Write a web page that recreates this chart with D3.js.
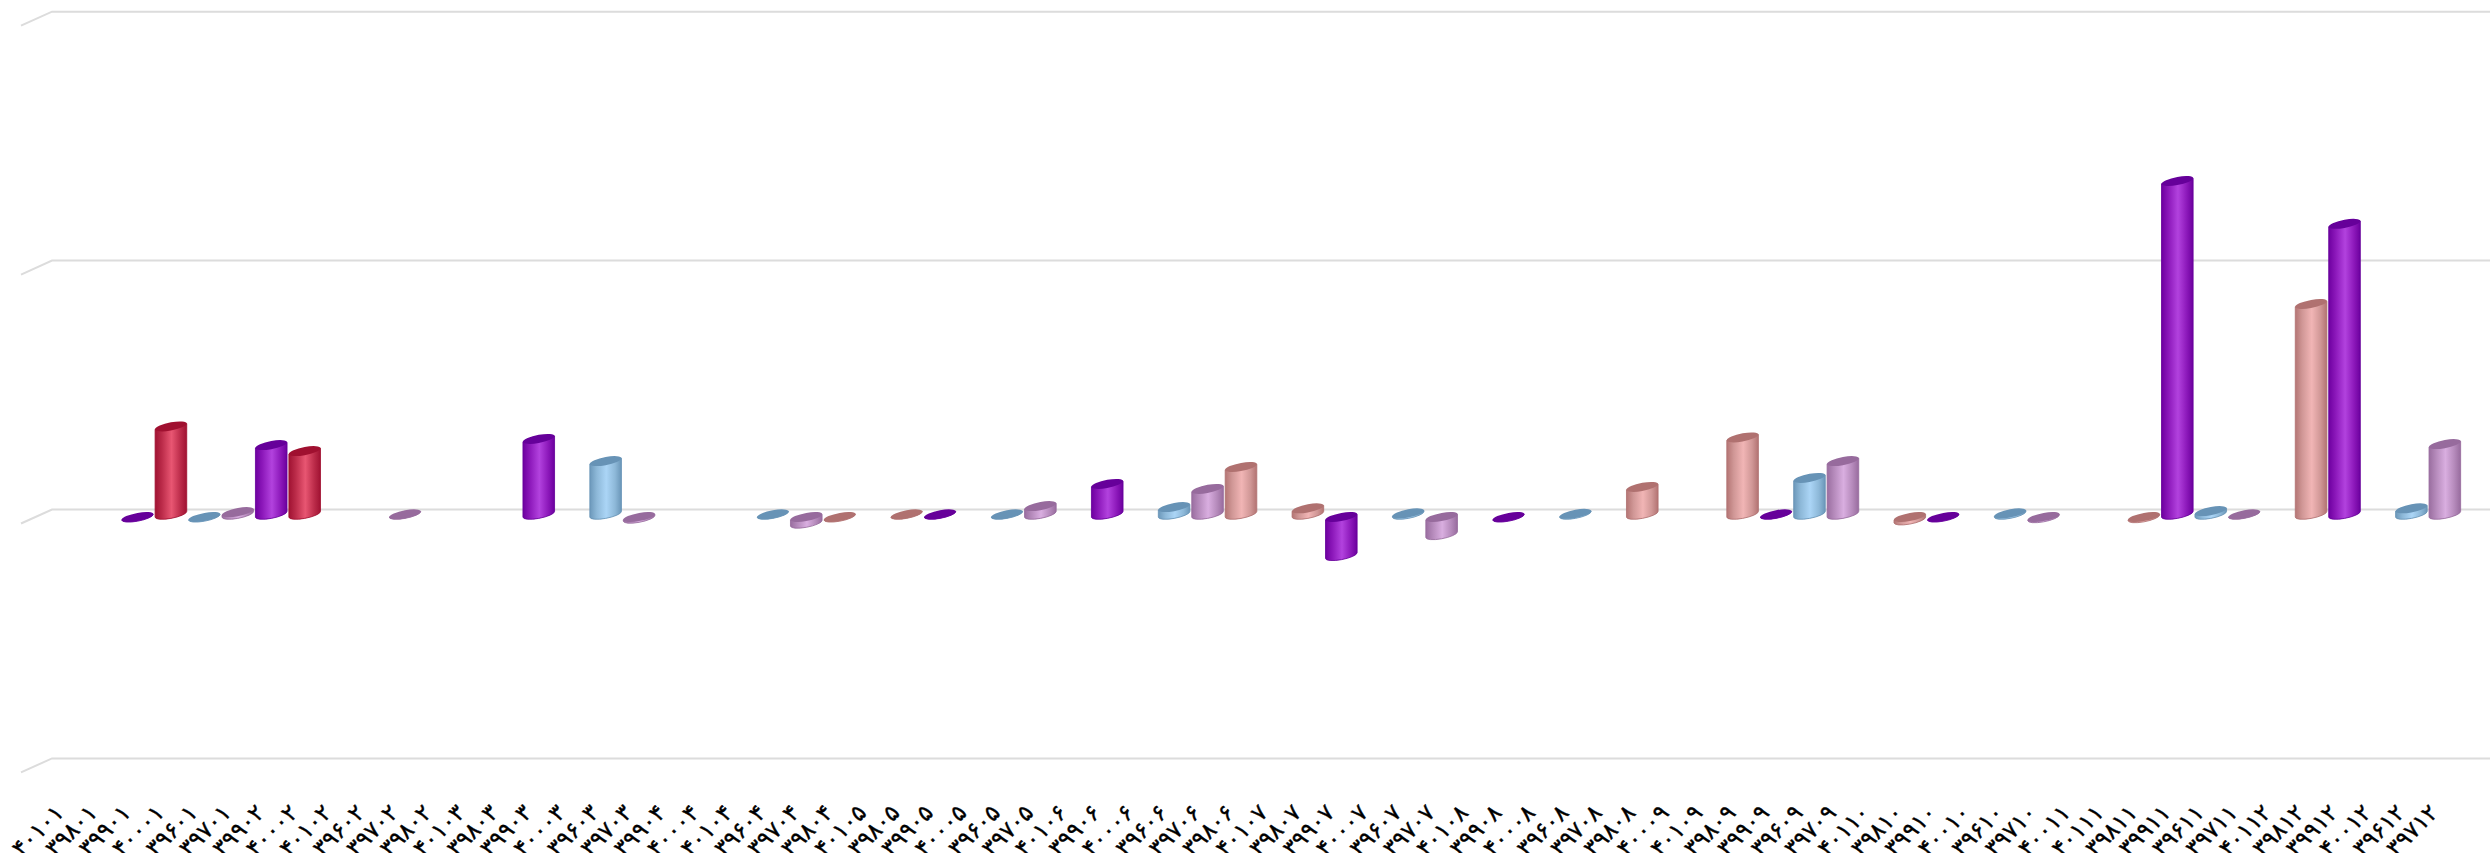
<!DOCTYPE html>
<html lang="fa"><head>
<meta charset="utf-8">
<title>chart</title>
<script src="https://cdn.jsdelivr.net/npm/d3@7"></script>
<style>
html, body { margin: 0; padding: 0; background: #fff; overflow: hidden; }
svg { display: block; }
</style>
</head>
<body>
<script type="text/javascript">

var width = 2490;
var height = 853;

// order of the category labels, as they stand under the chart
var categories = [
"۴۰۱۰۱","۳۹۸۰۱","۳۹۹۰۱","۴۰۰۰۱","۳۹۶۰۱","۳۹۷۰۱",
"۳۹۹۰۲","۴۰۰۰۲","۴۰۱۰۲","۳۹۶۰۲","۳۹۷۰۲","۳۹۸۰۲",
"۴۰۱۰۳","۳۹۸۰۳","۳۹۹۰۳","۴۰۰۰۳","۳۹۶۰۳","۳۹۷۰۳",
"۳۹۹۰۴","۴۰۰۰۴","۴۰۱۰۴","۳۹۶۰۴","۳۹۷۰۴","۳۹۸۰۴",
"۴۰۱۰۵","۳۹۸۰۵","۳۹۹۰۵","۴۰۰۰۵","۳۹۶۰۵","۳۹۷۰۵",
"۴۰۱۰۶","۳۹۹۰۶","۴۰۰۰۶","۳۹۶۰۶","۳۹۷۰۶","۳۹۸۰۶",
"۴۰۱۰۷","۳۹۸۰۷","۳۹۹۰۷","۴۰۰۰۷","۳۹۶۰۷","۳۹۷۰۷",
"۴۰۱۰۸","۳۹۹۰۸","۴۰۰۰۸","۳۹۶۰۸","۳۹۷۰۸","۳۹۸۰۸",
"۴۰۰۰۹","۴۰۱۰۹","۳۹۸۰۹","۳۹۹۰۹","۳۹۶۰۹","۳۹۷۰۹",
"۴۰۱۱۰","۳۹۸۱۰","۳۹۹۱۰","۴۰۰۱۰","۳۹۶۱۰","۳۹۷۱۰",
"۴۰۰۱۱","۴۰۱۱۱","۳۹۸۱۱","۳۹۹۱۱","۳۹۶۱۱","۳۹۷۱۱",
"۴۰۱۱۲","۳۹۸۱۲","۳۹۹۱۲","۴۰۰۱۲","۳۹۶۱۲","۳۹۷۱۲"
];

var months = ["۰۱","۰۲","۰۳","۰۴","۰۵","۰۶","۰۷","۰۸","۰۹","۱۰","۱۱","۱۲"];

// one value per month, null where the picture has no bar
var values396 = [-0.05, null, 21.4, 0, 0, 2.9, 0.4, 0.2, 14.6, 0.4, 1.3, 2.4];
var values397 = [0.9, 0, -0.5, -2.5, 3.3, 10.2, -7.1, null, 21.4, -0.3, 0, 28.2];
var values398 = [null, null, null, -0.05, 0, 19.0, 2.4, 11.0, 30.9, -1.2, -0.3, 84.5];
var values399 = [-0.05, 27.8, 30.3, null, 0, 12.2, -15.5, -0.05, 0, -0.05, 133.9, 116.7];
var values400 = [35.3, 25.4, null, null, null, null, null, null, null, null, null, null];

var gridTicks = [-100, 0, 100, 200];

var svg = d3.select("body").append("svg")
            .attr("width", width)
            .attr("height", height);

var x = d3.scalePoint()
    .domain(categories)
    .range([70.6, 70.6 + 71 * 33.44]);

var y = d3.scaleLinear()
    .domain([-100, 200])
    .range([763.2, 16.5]);

var rx = 15.8;
var ry = 4.1;
var skew = -10.2;
var wallY = 4.8;      // back wall sits a little above the front of the floor
var negShift = 2.7;   // negative bars hang from slightly under the zero level

var styles = [
    {year: "۳۹۶", values: values396, cap: "#6793b6", stops: ["#6c98ba", "#8db8d8", "#abd5f6", "#8db8d8", "#6a96b8"]},
    {year: "۳۹۷", values: values397, cap: "#976b9d", stops: ["#9a6ea0", "#b58abb", "#d9aee0", "#b58abb", "#986c9e"]},
    {year: "۳۹۸", values: values398, cap: "#b07170", stops: ["#b47574", "#d09796", "#f1b5b5", "#d09796", "#b27372"]},
    {year: "۳۹۹", values: values399, cap: "#66009a", stops: ["#6e00a0", "#8c18ba", "#b242de", "#8c18ba", "#6c009e"]},
    {year: "۴۰۰", values: values400, cap: "#a01030", stops: ["#a01232", "#bc2c4a", "#e85672", "#bc2c4a", "#a01232"]}
];

var defs = svg.append("defs");
styles.forEach((s, i) => {
    var g = defs.append("linearGradient")
        .attr("id", "body" + i)
        .attr("x1", "0").attr("x2", "1")
        .attr("y1", "0").attr("y2", "0");
    var offsets = [0, 0.22, 0.52, 0.8, 1];
    s.stops.forEach((c, k) => {
        g.append("stop").attr("offset", offsets[k]).attr("stop-color", c);
    });
});

// back wall grid lines with the short slanted piece on the left
svg.append("g").selectAll("path")
    .data(gridTicks)
    .enter()
    .append("path")
    .attr("d", (d) => {
        var gy = y(d) - wallY;
        return "M21," + (gy + 14) + "L52," + gy + "L" + width + "," + gy;
    })
    .attr("fill", "none")
    .attr("stroke", "#dcdcdc")
    .attr("stroke-width", 2);

// flatten the series into bars, looked up by label
var bars = [];
styles.forEach((s, i) => {
    s.values.forEach((v, m) => {
        if (v === null) return;
        bars.push({label: s.year + months[m], value: v, style: i});
    });
});
bars.sort((a, b) => x(a.label) - x(b.label));

var bar = svg.append("g").selectAll("g")
    .data(bars)
    .enter()
    .append("g")
    .attr("transform", (d) => "translate(" + x(d.label) + ",0) skewY(" + skew + ")");

function capY(d) {
    return d.value < 0 ? y(0) + negShift : y(d.value);
}
function baseY(d) {
    return d.value < 0 ? y(d.value) + negShift : y(0);
}

bar.append("path")
    .attr("d", (d) => "M" + (-rx) + "," + capY(d)
        + "L" + (-rx) + "," + baseY(d)
        + "A" + rx + "," + ry + " 0 0 0 " + rx + "," + baseY(d)
        + "L" + rx + "," + capY(d) + "Z")
    .attr("fill", (d) => "url(#body" + d.style + ")")
    .attr("stroke", (d) => styles[d.style].cap)
    .attr("stroke-width", 0.8);

bar.append("ellipse")
    .attr("cx", 0)
    .attr("cy", (d) => capY(d))
    .attr("rx", rx)
    .attr("ry", ry)
    .attr("fill", (d) => styles[d.style].cap);

// category labels, cut by the bottom edge as in the original
var axis = d3.axisBottom(x).tickSize(0).tickPadding(0);

var gx = svg.append("g")
    .attr("transform", "translate(0,815)")
    .call(axis);

gx.select(".domain").remove();

gx.selectAll("text")
    .attr("font-family", "'DejaVu Sans'")
    .attr("font-size", 23)
    .attr("fill", "#000")
    .attr("stroke", "#000")
    .attr("stroke-width", 0.4)
    .attr("direction", "ltr")
    .attr("text-anchor", "end")
    .attr("dy", 0)
    .attr("y", 0)
    .attr("x", 0)
    .attr("transform", "translate(-6,-1) rotate(-45)");

</script>
</body></html>
